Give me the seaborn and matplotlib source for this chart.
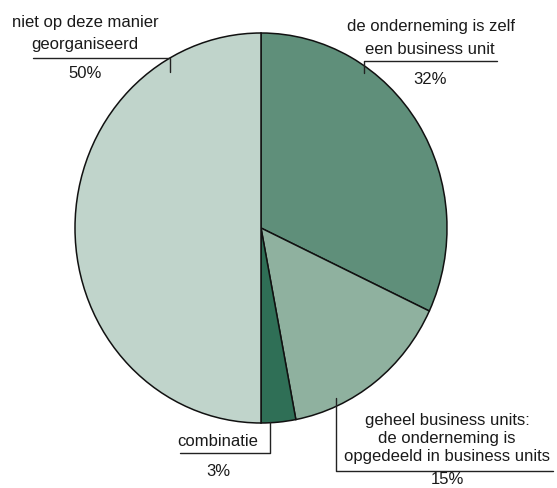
import matplotlib
matplotlib.use("Agg")
import matplotlib.pyplot as plt
import seaborn as sns
from matplotlib.lines import Line2D

sns.set_theme(style="white")
plt.rcParams['font.family'] = ['Liberation Sans', 'DejaVu Sans']

# Data
categories = ["de onderneming is zelf een business unit",
              "geheel business units: de onderneming is opgedeeld in business units",
              "combinatie",
              "niet op deze manier georganiseerd"]
shares = [32, 15, 3, 50]
colors = ["#5f8f7a", "#8fb19f", "#2f6f56", "#c0d4cb"]

W, H = 557, 488
fig = plt.figure(figsize=(W / 100, H / 100), dpi=100)
fig.patch.set_facecolor("white")


def px(x, y):
    return x / W, 1 - y / H


# pie axes (slightly taller than wide, like the original)
left, right, top, bottom = 75, 447, 33, 423
ax = fig.add_axes([left / W, 1 - bottom / H, (right - left) / W, (bottom - top) / H])
ax.pie(shares, colors=colors, startangle=90, counterclock=False,
       wedgeprops=dict(edgecolor="#111111", linewidth=1.1))
ax.set_aspect("auto")
ax.set_xlim(-1, 1)
ax.set_ylim(-1, 1)
ax.axis("off")

fs = 12
tc = "#1a1a1a"


def line(xs, ys):
    pts = [px(x, y) for x, y in zip(xs, ys)]
    fig.add_artist(Line2D([p[0] for p in pts], [p[1] for p in pts],
                          color="#222222", linewidth=1.0))


def text(x, y, s):
    fx, fy = px(x, y)
    fig.text(fx, fy, s, ha="center", va="center", fontsize=fs, color=tc)


# niet op deze manier georganiseerd
text(85, 22, "niet op deze manier")
text(85, 45, "georganiseerd")
line([33, 170, 170], [58, 58, 72])
text(85, 74, f"{shares[3]}%")

# de onderneming is zelf een business unit
text(431, 27, "de onderneming is zelf")
text(430, 50, "een business unit")
line([497, 364, 364], [61, 61, 73])
text(430, 79, f"{shares[0]}%")

# combinatie
text(218, 442, "combinatie")
line([180, 270, 270], [453, 453, 422])
text(218, 471, f"{shares[2]}%")

# geheel business units
text(447, 420, "geheel business units:")
text(447, 438, "de onderneming is")
text(447, 456, "opgedeeld in business units")
line([336, 336, 553], [398, 471, 471])
text(447, 480, f"{shares[1]}%")

fig.savefig("out.png", dpi=100, facecolor="white")
